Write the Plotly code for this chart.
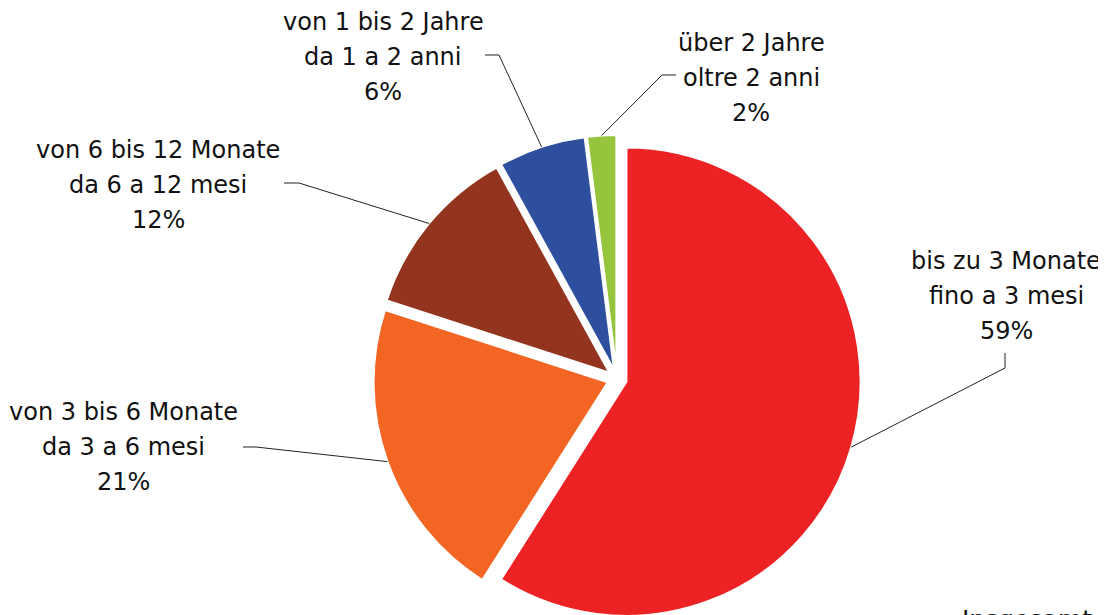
import math
import plotly.graph_objects as go

# ---- data ----
labels_de = ["bis zu 3 Monate", "von 3 bis 6 Monate", "von 6 bis 12 Monate", "von 1 bis 2 Jahre", "über 2 Jahre"]
labels_it = ["fino a 3 mesi", "da 3 a 6 mesi", "da 6 a 12 mesi", "da 1 a 2 anni", "oltre 2 anni"]
values = [59, 21, 12, 6, 2]
colors = ["#ED2224", "#F26522", "#93341E", "#2E4F9E", "#95C43D"]
total_label = "Insgesamt"

# ---- layout constants ----
W, H = 1106, 615
OFF = 8                      # page offset of the figure (body margin)
CX, CY = 617 - OFF, 379 - OFF  # pie centre in figure px
PULL = 0.042
half = H - CY
R = half / (1 + PULL)

dom_x = [(CX - half) / W, (CX + half) / W]
dom_y = [0, 2 * half / H]

FONT = "DejaVu Sans"
FSIZE = 24

# label anchor (centre x, first line y) and leader end/elbow, page px
label_pos = [
    (1006, 261, [(1005, 353), (1005, 368)]),
    (123, 412, [(243, 447), (256, 447)]),
    (158, 150, [(284, 183), (299, 183)]),
    (383, 22, [(485, 55), (499, 55)]),
    (751, 43, [(676, 75), (662, 75)]),
]
LINE_GAP = 35

fig = go.Figure(go.Pie(
    labels=labels_de, values=values, sort=False, direction="clockwise", rotation=0,
    marker=dict(colors=colors, line=dict(color="white", width=2)),
    pull=[PULL] * len(values), textinfo="none", hoverinfo="label+percent",
    domain=dict(x=dom_x, y=dom_y), showlegend=False,
))

def fig_paper(fx, fy):
    return fx / W, 1 - fy / H

def page_paper(px, py):
    return fig_paper(px - OFF, py - OFF)

annotations = []
shapes = []
tot = sum(values)
cum = 0
for i, v in enumerate(values):
    mid = (cum + v / 2) / tot * 2 * math.pi
    cum += v
    ax = CX + R * (1 + PULL) * math.sin(mid)
    ay = CY - R * (1 + PULL) * math.cos(mid)
    lx, ly, pts = label_pos[i]
    pct = f"{round(v / tot * 100)}%"
    for k, t in enumerate([labels_de[i], labels_it[i], pct]):
        x, y = page_paper(lx, ly + k * LINE_GAP)
        annotations.append(dict(x=x, y=y, xref="paper", yref="paper", text=t, showarrow=False,
                                xanchor="center", yanchor="middle",
                                font=dict(family=FONT, size=FSIZE, color="#111")))
    seq = [fig_paper(ax, ay), page_paper(*pts[1]), page_paper(*pts[0])]
    d = "M " + " L ".join(f"{px},{py}" for px, py in seq)
    shapes.append(dict(type="path", path=d, xref="paper", yref="paper",
                       line=dict(color="#222", width=1)))

ix, iy = page_paper(960, 603)
annotations.append(dict(x=ix, y=iy, xref="paper", yref="paper", text=total_label, showarrow=False,
                        xanchor="left", yanchor="top",
                        font=dict(family=FONT, size=25, color="#111")))

fig.update_layout(width=W, height=H, margin=dict(l=0, r=0, t=0, b=0),
                  paper_bgcolor="white", plot_bgcolor="white",
                  annotations=annotations, shapes=shapes)

fig.write_html("out.html")
